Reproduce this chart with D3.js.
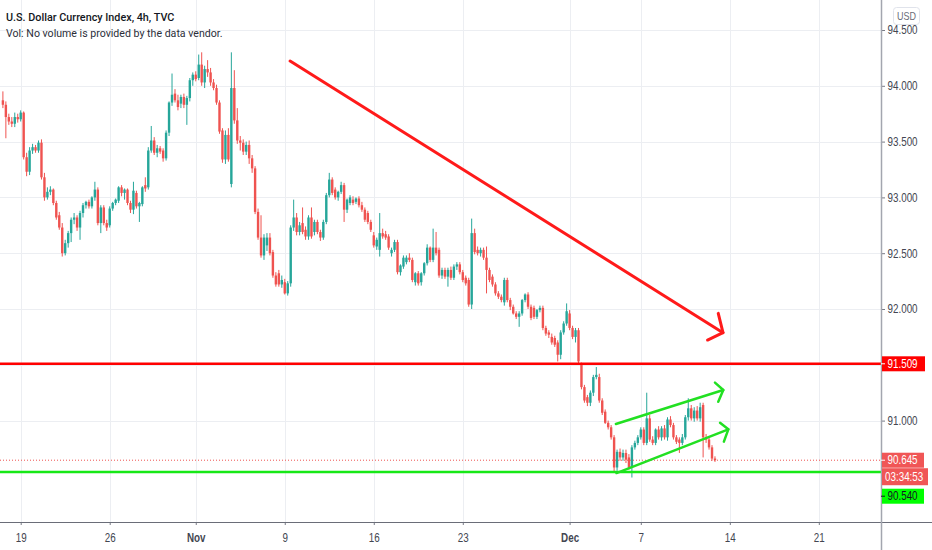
<!DOCTYPE html>
<html><head><meta charset="utf-8">
<script src="https://cdn.jsdelivr.net/npm/d3@7"></script>
<style>
body{margin:0;background:#fff;}
svg{display:block;}
.nar{font-family:"Liberation Sans",Arial,sans-serif;}
</style>
</head><body>
<svg id="c" width="932" height="550"></svg>
<script>
const opens=[
93.87,93.83,93.72,93.68,93.66,93.72,93.70,93.76,93.36,93.23,
93.42,93.45,93.42,93.49,93.18,93.00,93.05,93.07,92.95,92.84,
92.73,92.50,92.59,92.68,92.80,92.82,92.73,92.86,92.93,92.96,
92.92,93.00,93.07,92.77,92.91,92.77,92.75,92.90,92.95,92.97,
93.09,93.04,93.07,92.95,92.89,93.04,92.92,92.94,93.11,93.09,
93.42,93.51,93.40,93.44,93.42,93.35,93.58,93.85,93.93,93.87,
93.84,93.90,93.83,93.89,94.05,94.10,94.07,94.19,94.03,94.15,
94.12,94.03,93.98,93.85,93.60,93.34,93.56,93.12,93.98,93.69,
93.51,93.49,93.41,93.47,93.35,93.26,92.87,92.64,92.48,92.57,
92.64,92.51,92.30,92.32,92.22,92.24,92.14,92.23,92.73,92.82,
92.69,92.77,92.71,92.65,92.82,92.69,92.78,92.69,92.64,92.78,
93.02,93.16,93.07,93.00,93.05,93.11,92.89,92.95,92.98,92.96,
92.99,92.93,92.89,92.86,92.78,92.66,92.56,92.53,92.68,92.67,
92.65,92.50,92.53,92.60,92.33,92.38,92.42,92.46,92.44,92.24,
92.32,92.24,92.32,92.41,92.55,92.44,92.55,92.53,92.30,92.35,
92.29,92.35,92.28,92.38,92.40,92.33,92.28,92.26,92.04,92.68,
92.53,92.50,92.53,92.46,92.35,92.29,92.22,92.14,92.11,92.06,
92.26,92.08,92.02,91.96,91.93,91.96,92.08,92.13,92.02,92.01,
91.93,91.99,92.01,91.83,91.79,91.75,91.74,91.70,91.59,91.79,
91.87,91.96,91.83,91.75,91.81,91.50,91.30,91.21,91.16,91.25,
91.39,91.39,91.18,91.08,90.98,90.94,90.85,90.58,90.72,90.67,
90.71,90.67,90.58,90.76,90.80,90.85,90.92,90.80,91.02,90.83,
90.80,90.92,90.85,90.93,90.85,91.01,90.96,90.85,90.83,90.80,
90.85,91.03,91.11,91.02,91.09,91.02,91.14,90.85,90.83,90.76,90.66];
const highs=[
93.95,93.86,93.75,93.72,93.76,93.75,93.78,93.77,93.40,93.45,
93.48,93.47,93.51,93.52,93.22,93.09,93.10,93.08,92.97,92.87,
92.77,92.62,92.70,92.82,92.86,92.84,92.88,92.95,92.97,92.98,
93.01,93.14,93.09,92.93,92.93,92.80,92.92,92.96,92.99,93.10,
93.11,93.08,93.08,92.97,93.14,93.06,92.96,93.10,93.18,93.45,
93.64,93.54,93.47,93.46,93.44,93.60,93.86,94.11,93.97,93.92,
93.92,93.93,93.91,94.07,94.12,94.13,94.28,94.30,94.18,94.23,
94.16,94.06,94.01,93.87,93.62,93.60,93.62,94.30,94.14,93.80,
93.55,93.52,93.50,93.51,93.38,93.28,92.90,92.84,92.67,92.68,
92.68,92.53,92.33,92.35,92.30,92.27,92.25,92.75,92.98,92.86,
92.78,92.91,92.74,92.84,92.91,92.80,92.80,92.71,92.80,93.04,
93.22,93.18,93.09,93.06,93.14,93.13,92.99,93.02,93.01,93.00,
93.01,92.96,92.91,92.88,92.80,92.69,92.64,92.86,92.72,92.70,
92.67,92.55,92.62,92.62,92.40,92.48,92.48,92.50,92.46,92.33,
92.34,92.33,92.42,92.58,92.56,92.72,92.69,92.55,92.37,92.37,
92.37,92.38,92.40,92.42,92.42,92.35,92.30,92.28,92.81,92.72,
92.56,92.55,92.55,92.56,92.37,92.31,92.24,92.16,92.13,92.28,
92.28,92.10,92.04,91.98,91.98,92.09,92.14,92.15,92.04,92.03,
92.00,92.03,92.03,91.85,91.81,91.78,91.76,91.72,91.81,91.89,
92.05,91.99,91.85,91.83,91.83,91.52,91.32,91.23,91.27,91.41,
91.48,91.42,91.20,91.10,91.00,90.96,90.87,90.74,90.75,90.74,
90.74,90.70,90.78,90.82,90.87,90.94,90.94,91.25,91.05,90.86,
90.93,90.95,90.95,90.96,91.03,91.04,90.98,90.87,90.85,90.88,
91.05,91.20,91.14,91.12,91.13,91.16,91.16,90.88,90.85,90.78,90.68];
const lows=[
93.80,93.53,93.65,93.63,93.63,93.67,93.68,93.34,93.19,93.20,
93.39,93.40,93.40,93.16,92.97,92.98,93.02,92.93,92.80,92.71,
92.47,92.48,92.55,92.60,92.76,92.70,92.62,92.82,92.90,92.90,
92.90,92.97,92.75,92.68,92.75,92.70,92.73,92.88,92.93,92.95,
93.01,92.98,92.93,92.86,92.85,92.90,92.78,92.92,93.05,93.07,
93.40,93.38,93.36,93.39,93.32,93.33,93.55,93.82,93.85,93.78,
93.80,93.80,93.65,93.86,94.00,94.04,94.05,94.00,93.98,94.08,
94.00,93.96,93.83,93.57,93.31,93.30,93.32,93.09,93.66,93.48,
93.42,93.38,93.38,93.30,93.22,92.85,92.62,92.46,92.44,92.52,
92.48,92.28,92.20,92.20,92.19,92.13,92.12,92.20,92.70,92.66,
92.66,92.67,92.62,92.62,92.63,92.66,92.67,92.61,92.62,92.76,
93.00,93.02,92.98,92.97,93.03,92.78,92.86,92.93,92.93,92.94,
92.91,92.87,92.78,92.76,92.69,92.55,92.53,92.47,92.63,92.62,
92.53,92.47,92.51,92.31,92.30,92.36,92.40,92.42,92.24,92.21,
92.21,92.21,92.30,92.39,92.42,92.42,92.48,92.28,92.27,92.27,
92.20,92.26,92.26,92.35,92.31,92.24,92.21,92.02,92.00,92.49,
92.48,92.47,92.44,92.14,92.24,92.20,92.12,92.09,92.06,92.03,
92.06,91.99,91.95,91.91,91.84,91.94,92.06,92.00,91.90,91.91,
91.91,91.97,91.81,91.76,91.74,91.68,91.66,91.53,91.55,91.77,
91.85,91.81,91.73,91.70,91.50,91.28,91.16,91.13,91.13,91.22,
91.37,91.16,91.05,90.97,90.92,90.83,90.53,90.55,90.64,90.64,
90.62,90.56,90.49,90.74,90.78,90.83,90.78,90.78,90.81,90.78,
90.78,90.83,90.82,90.83,90.82,90.94,90.83,90.79,90.71,90.78,
90.83,91.00,91.00,90.99,91.00,90.99,90.67,90.80,90.74,90.64,90.63];
const closes=[
93.83,93.72,93.68,93.66,93.72,93.70,93.76,93.36,93.23,93.42,
93.45,93.42,93.49,93.18,93.00,93.05,93.07,92.95,92.82,92.73,
92.50,92.59,92.68,92.80,92.82,92.73,92.86,92.93,92.96,92.92,
93.00,93.07,92.77,92.91,92.77,92.73,92.90,92.95,92.98,93.09,
93.04,93.07,92.95,92.89,93.06,92.92,92.95,93.09,93.08,93.42,
93.51,93.40,93.44,93.41,93.35,93.58,93.85,93.92,93.87,93.81,
93.90,93.83,93.89,94.05,94.10,94.06,94.19,94.03,94.15,94.12,
94.03,93.98,93.85,93.59,93.34,93.56,93.34,93.98,93.69,93.51,
93.49,93.41,93.47,93.35,93.26,92.87,92.64,92.48,92.64,92.64,
92.50,92.30,92.22,92.22,92.26,92.14,92.23,92.73,92.82,92.69,
92.75,92.69,92.65,92.82,92.65,92.78,92.69,92.64,92.78,93.02,
93.16,93.04,93.00,93.05,93.11,92.89,92.98,93.00,92.95,92.99,
92.93,92.89,92.80,92.78,92.71,92.57,92.62,92.68,92.65,92.64,
92.55,92.53,92.60,92.33,92.39,92.46,92.46,92.44,92.26,92.32,
92.23,92.32,92.41,92.55,92.44,92.55,92.50,92.30,92.35,92.29,
92.35,92.28,92.38,92.40,92.33,92.26,92.23,92.04,92.68,92.51,
92.50,92.53,92.46,92.35,92.26,92.22,92.14,92.11,92.08,92.26,
92.08,92.02,91.96,91.93,91.96,92.08,92.13,92.02,91.92,91.93,
91.99,92.01,91.83,91.78,91.77,91.70,91.68,91.59,91.79,91.87,
91.98,91.83,91.75,91.81,91.53,91.30,91.18,91.16,91.25,91.39,
91.41,91.18,91.07,90.98,90.94,90.85,90.58,90.72,90.67,90.71,
90.65,90.58,90.76,90.80,90.85,90.92,90.80,91.02,90.83,90.80,
90.92,90.85,90.93,90.85,91.01,90.96,90.85,90.81,90.80,90.85,
91.03,91.11,91.02,91.09,91.02,91.12,90.85,90.83,90.76,90.66,90.645];

// time axis: bar index of each label
const timeTickBars=[6,36,65,95,125,155,191,215,245,275];
const timeTickLabels=["19","26","Nov","9","16","23","Dec","7","14","21"];
const priceTicks=[91.0,91.5,92.0,92.5,93.0,93.5,94.0,94.5];

const resistanceLevel=91.509;
const supportLevel=90.540;
const lastPrice=90.645;
const countdownText="03:34:53";

// drawings in (bar index, price)
const trendArrowLine=[[96.8,94.222],[242.7,91.788]];
const trendArrowHead=[[241.1,91.961],[242.7,91.788],[237.5,91.722]];
const channelUpperLine=[[206.6,90.970],[242.8,91.274]];
const channelUpperHead=[[240.0,91.340],[242.8,91.274],[241.1,91.169]];
const channelLowerLine=[[206.8,90.530],[244.5,90.922]];
const channelLowerHead=[[241.7,90.981],[244.5,90.922],[243.0,90.811]];

const titleText="U.S. Dollar Currency Index, 4h, TVC";
const volText="Vol: No volume is provided by the data vendor.";

const W=932,H=550,plotR=881,plotB=522,SX=0.82,FS=12;
const svg=d3.select("#c");
const x=d3.scaleLinear().domain([0,240]).range([2.9,2.9+240*2.967]);
const y=d3.scaleLinear().domain([94.5,91.0]).range([30,420.6]);

svg.append("defs").append("clipPath").attr("id","pc")
  .append("rect").attr("x",0).attr("y",0).attr("width",plotR).attr("height",plotB);

// grid
const grid=svg.append("g");
grid.selectAll("line.h").data(priceTicks).join("line")
  .attr("x1",0).attr("x2",plotR).attr("y1",d=>Math.round(y(d))+0.5).attr("y2",d=>Math.round(y(d))+0.5)
  .attr("stroke","#eceef2").attr("stroke-width",1);
grid.selectAll("line.v").data(timeTickBars).join("line")
  .attr("y1",0).attr("y2",plotB).attr("x1",d=>Math.round(x(d))+0.5).attr("x2",d=>Math.round(x(d))+0.5)
  .attr("stroke","#eceef2").attr("stroke-width",1);

const plot=svg.append("g").attr("clip-path","url(#pc)");

// candles
const idx=d3.range(opens.length);
const up="#26a69a",dn="#ef5350";
plot.append("g").selectAll("line").data(idx).join("line")
  .attr("x1",i=>x(i)).attr("x2",i=>x(i))
  .attr("y1",i=>y(highs[i])).attr("y2",i=>y(lows[i]))
  .attr("stroke",i=>closes[i]>=opens[i]?up:dn).attr("stroke-width",1);
plot.append("g").selectAll("rect").data(idx).join("rect")
  .attr("x",i=>x(i)-1.2).attr("width",2.4)
  .attr("y",i=>y(Math.max(opens[i],closes[i])))
  .attr("height",i=>Math.max(1,Math.abs(y(opens[i])-y(closes[i]))))
  .attr("fill",i=>closes[i]>=opens[i]?up:dn);

// last price dotted
plot.append("line").attr("x1",0).attr("x2",plotR).attr("y1",y(lastPrice)).attr("y2",y(lastPrice))
  .attr("stroke","#ef5350").attr("stroke-width",1).attr("stroke-dasharray","1,2");

// horizontal levels
plot.append("line").attr("x1",0).attr("x2",plotR).attr("y1",y(resistanceLevel)).attr("y2",y(resistanceLevel))
  .attr("stroke","#ff0000").attr("stroke-width",2.5);
plot.append("line").attr("x1",0).attr("x2",plotR).attr("y1",y(supportLevel)).attr("y2",y(supportLevel))
  .attr("stroke","#16e816").attr("stroke-width",2.5);

const ln=d3.line().x(d=>x(d[0])).y(d=>y(d[1]));
function drawPath(pts,color,w){
  plot.append("path").attr("d",ln(pts)).attr("fill","none").attr("stroke",color)
    .attr("stroke-width",w).attr("stroke-linecap","round").attr("stroke-linejoin","round");
}
drawPath(trendArrowLine,"#ff1a1a",3);
drawPath(trendArrowHead,"#ff1a1a",3);
drawPath(channelUpperLine,"#22e022",2.5);
drawPath(channelUpperHead,"#22e022",2.5);
drawPath(channelLowerLine,"#22e022",2.5);
drawPath(channelLowerHead,"#22e022",2.5);

// axes
const yAxis=d3.axisRight(y).tickValues(priceTicks).tickFormat(d=>d.toFixed(3)).tickSize(4).tickPadding(3);
const ya=svg.append("g").attr("class","nar").attr("transform",`translate(${plotR},0)`).call(yAxis);
ya.select(".domain").remove();
ya.selectAll(".tick line").attr("stroke","#787b86");
ya.selectAll(".tick text").attr("fill","#434651").attr("font-size",FS)
  .attr("x",6.5/SX).attr("transform",`scale(${SX},1)`);

const xAxis=d3.axisBottom(x).tickValues(timeTickBars).tickFormat((d,i)=>timeTickLabels[i]).tickSize(3).tickPadding(8);
const xa=svg.append("g").attr("class","nar").attr("transform",`translate(0,${plotB})`).call(xAxis);
xa.select(".domain").remove();
xa.selectAll(".tick line").attr("stroke","#787b86");
xa.selectAll(".tick text").attr("fill","#434651").attr("font-size",FS)
  .attr("transform",`scale(${SX},1)`)
  .attr("font-weight",(d,i)=>/[A-Za-z]/.test(timeTickLabels[i])?"bold":"normal");

// axis borders
svg.append("line").attr("x1",0).attr("x2",W).attr("y1",plotB+0.5).attr("y2",plotB+0.5).attr("stroke","#6a6d78").attr("stroke-width",1);
svg.append("line").attr("x1",plotR+0.5).attr("x2",plotR+0.5).attr("y1",0).attr("y2",H).attr("stroke","#a3a6af").attr("stroke-width",1.5);

// price labels on axis
function label(g,tx,yc,txt,fg){
  g.append("text").attr("transform",`translate(${tx},${yc}) scale(${SX},1)`)
    .attr("dy","0.35em").attr("fill",fg).attr("font-size",FS).text(txt);
}
function tag(txt,bg,fg,yc,w){
  const g=svg.append("g").attr("class","nar");
  g.append("rect").attr("x",plotR+1).attr("y",yc-7.5).attr("width",w).attr("height",15).attr("fill",bg);
  g.append("line").attr("x1",plotR).attr("x2",plotR+4).attr("y1",yc).attr("y2",yc).attr("stroke",fg);
  label(g,plotR+6.5,yc,txt,fg);
}
tag(resistanceLevel.toFixed(3),"#ff0000","#ffffff",y(resistanceLevel),43);
tag(lastPrice.toFixed(3),"#f05656","#ffffff",y(lastPrice),42);
{
  const g=svg.append("g").attr("class","nar");
  const yc=y(lastPrice)+16.5;
  g.append("rect").attr("x",plotR+1).attr("y",yc-8.5).attr("width",46).attr("height",17).attr("fill","#f05656");
  label(g,plotR+4,yc,countdownText,"#ffffff");
}
tag(supportLevel.toFixed(3),"#00ff00","#131722",y(lastPrice)+36,42);

// USD box
svg.append("rect").attr("x",893.5).attr("y",7.5).attr("width",26).attr("height",17).attr("rx",3)
  .attr("fill","#fff").attr("stroke","#e0e3eb");
svg.append("text").attr("class","nar").attr("transform",`translate(906.5,16) scale(${SX},1)`).attr("dy","0.35em").attr("text-anchor","middle")
  .attr("font-size",11).attr("fill","#6a6d78").text("USD");

// header
svg.append("text").attr("x",6).attr("y",21).attr("font-family","Roboto,Arial,sans-serif")
  .attr("font-weight",500).attr("font-size",10.8).attr("fill","#131722").text(titleText);
svg.append("text").attr("x",6).attr("y",37).attr("font-family","Roboto,Arial,sans-serif")
  .attr("font-size",10.6).attr("fill","#2a2e39").text(volText);
</script>
</body></html>
